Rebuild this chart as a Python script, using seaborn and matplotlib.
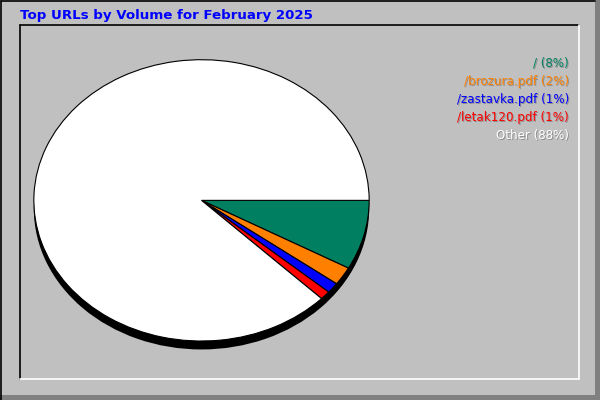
import matplotlib
matplotlib.use("Agg")
import matplotlib.pyplot as plt
import matplotlib.patches as mpatches
import seaborn as sns

# data
urls = ["/", "/brozura.pdf", "/zastavka.pdf", "/letak120.pdf", "Other"]
shares = [8.0, 2.1, 1.2, 1.0, 87.7]
slice_colors = ["#008060", "#FF8000", "#0000FF", "#FF0000", "#FFFFFF"]
title = "Top URLs by Volume for February 2025"

sns.set_style("white")
plt.rcParams["font.family"] = ["DejaVu Sans"]

fig = plt.figure(figsize=(6, 4), dpi=100)
fig.patch.set_facecolor("#C0C0C0")

# background / frame drawn in pixel coordinates
bg = fig.add_axes([0, 0, 1, 1])
bg.set_xlim(0, 600)
bg.set_ylim(400, 0)
bg.axis("off")
bg.add_patch(mpatches.Rectangle((595, 0), 5, 400, color="#808080", lw=0))
bg.add_patch(mpatches.Rectangle((0, 395), 600, 5, color="#808080", lw=0))
bg.plot([0.5, 0.5], [400, 0.5], color="black", lw=1.2)
bg.plot([0.5, 595], [0.5, 0.5], color="black", lw=1.2)
# inner panel
bg.plot([20, 20], [379, 25], color="black", lw=1.2)
bg.plot([20, 579], [25, 25], color="black", lw=1.2)
bg.plot([579, 579], [25, 379], color="white", lw=1.2)
bg.plot([20, 579], [379, 379], color="white", lw=1.2)

bg.text(20, 15, title, color="#0000FF", fontsize=9.6, fontweight="bold",
        ha="left", va="center")

# legend texts with drop shadow
total = sum(shares)
for i, (name, val, col) in enumerate(zip(urls, shares, slice_colors)):
    y = 63 + i * 18.2
    label = f"{name} ({val / total * 100:.0f}%)"
    bg.text(570, y + 1, label, color="#909090", fontsize=8.6, ha="right", va="center")
    bg.text(569, y, label, color=col, fontsize=8.6, ha="right", va="center")

# pie as an ellipse: separate axes with free aspect
left, right, top, bottom = 33, 370, 59, 351
ax = fig.add_axes([left / 600, (400 - bottom) / 400,
                   (right - left) / 600, (bottom - top) / 400])
ax.pie([1], colors=["black"], center=(0, -0.06), radius=1.0,
       wedgeprops=dict(linewidth=0))
ax.pie(shares, colors=slice_colors, startangle=0, counterclock=False,
       radius=1.0, wedgeprops=dict(edgecolor="black", linewidth=0.8))
ax.set_aspect("auto")
ax.set_xlim(-1.005, 1.005)
ax.set_ylim(1 - (bottom - top) / 141, 1.005)
ax.axis("off")

fig.savefig("out.png", dpi=100, facecolor=fig.get_facecolor())
